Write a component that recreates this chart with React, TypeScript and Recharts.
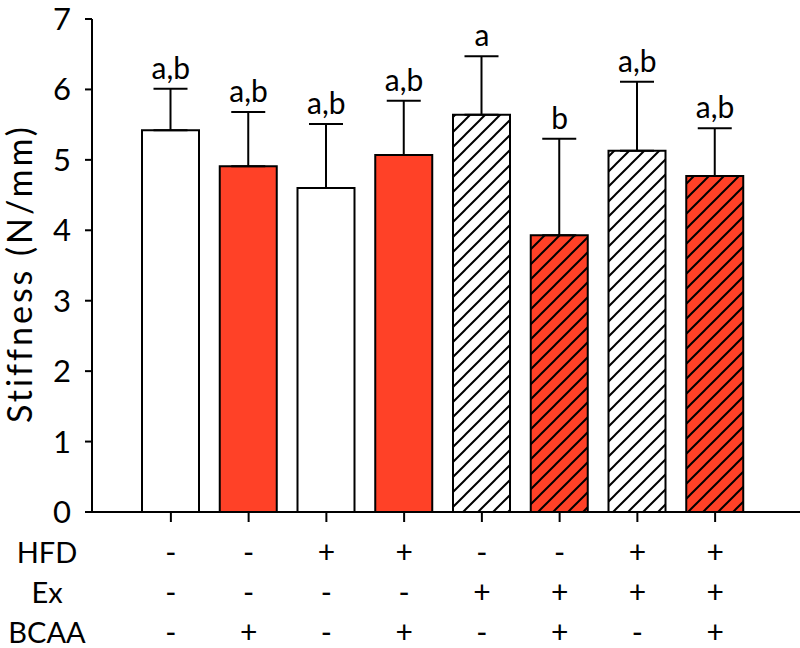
import {
  ComposedChart,
  Bar,
  Cell,
  ErrorBar,
  Line,
  LabelList,
  XAxis,
  YAxis,
} from "recharts";

const groups = ["g1", "g2", "g3", "g4", "g5", "g6", "g7", "g8"];
const stiffness = [5.42, 4.91, 4.6, 5.07, 5.64, 3.93, 5.13, 4.77];
const sdUpper = [0.59, 0.77, 0.91, 0.77, 0.83, 1.37, 0.98, 0.68];
const letters = ["a,b", "a,b", "a,b", "a,b", "a", "b", "a,b", "a,b"];
const hfd = ["-", "-", "+", "+", "-", "-", "+", "+"];
const ex = ["-", "-", "-", "-", "+", "+", "+", "+"];
const bcaa = ["-", "+", "-", "+", "-", "+", "-", "+"];
const barFills = [
  "#ffffff",
  "#ff4127",
  "#ffffff",
  "#ff4127",
  "url(#hatchWhite)",
  "url(#hatchRed)",
  "url(#hatchWhite)",
  "url(#hatchRed)",
];
const rowNames = ["HFD", "Ex", "BCAA"];
const yTicks = [0, 1, 2, 3, 4, 5, 6, 7];

const data = groups.map((g, i) => ({
  group: g,
  value: stiffness[i],
  err: [0, sdUpper[i]],
  top: stiffness[i] + sdUpper[i],
  sig: letters[i],
}));

const FONT = "Lato, 'Open Sans', sans-serif";

function TableTick(props: any) {
  const { x, y, index } = props;
  const rows = [hfd, ex, bcaa];
  return (
    <g>
      {rows.map((r, k) => (
        <text
          key={k}
          x={x}
          y={y + 29 + k * 40}
          textAnchor="middle"
          dominantBaseline="central"
          fontSize={30}
          fontFamily={FONT}
          fill="#000"
        >
          {r[index]}
        </text>
      ))}
      {index === 0 &&
        rowNames.map((n, k) => (
          <text
            key={n}
            x={47}
            y={y + 29 + k * 40}
            textAnchor="middle"
            dominantBaseline="central"
            fontSize={29}
            fontFamily={FONT}
            fill="#000"
          >
            {n}
          </text>
        ))}
    </g>
  );
}

export default function App() {
  return (
    <div style={{ position: "absolute", left: 0, top: 0, width: 800, height: 648, background: "#fff" }}>
      <ComposedChart
        width={800}
        height={648}
        data={data}
        margin={{ top: 19, right: 0, left: 0, bottom: 0 }}
      >
        <defs>
          <pattern id="hatchWhite" patternUnits="userSpaceOnUse" width={15} height={15}>
            <rect width={15} height={15} fill="#ffffff" />
            <path d="M-2,2 L2,-2 M0,15 L15,0 M13,17 L17,13" stroke="#000" strokeWidth={2} />
          </pattern>
          <pattern id="hatchRed" patternUnits="userSpaceOnUse" width={15} height={15}>
            <rect width={15} height={15} fill="#ff4127" />
            <path d="M-2,2 L2,-2 M0,15 L15,0 M13,17 L17,13" stroke="#000" strokeWidth={2} />
          </pattern>
        </defs>
        <XAxis
          dataKey="group"
          height={136}
          padding={{ left: 40, right: 46 }}
          axisLine={{ stroke: "#000", strokeWidth: 2 }}
          tickLine={{ stroke: "#000", strokeWidth: 2 }}
          tickSize={10}
          tickMargin={0}
          interval={0}
          tick={<TableTick />}
        />
        <YAxis
          domain={[0, 7]}
          ticks={yTicks}
          width={92}
          axisLine={{ stroke: "#000", strokeWidth: 2 }}
          tickLine={{ stroke: "#000", strokeWidth: 2 }}
          tickSize={7}
          tickMargin={14}
          tick={{ fontSize: 31, fill: "#000", fontFamily: FONT }}
          label={{
            value: "Stiffness (N/mm)",
            angle: -90,
            position: "insideLeft",
            dx: 15,
            dy: 8,
            style: { textAnchor: "middle", fontSize: 34, letterSpacing: 3, fill: "#000", fontFamily: FONT },
          }}
        />
        <Bar dataKey="value" barSize={57} stroke="#000" strokeWidth={2} isAnimationActive={false}>
          {data.map((d, i) => (
            <Cell key={d.group} fill={barFills[i]} />
          ))}
          <ErrorBar dataKey="err" width={17} stroke="#000" strokeWidth={2} direction="y" />
        </Bar>
        <Line
          dataKey="top"
          stroke="none"
          dot={false}
          activeDot={false}
          legendType="none"
          isAnimationActive={false}
        >
          <LabelList
            dataKey="sig"
            position="top"
            offset={10}
            style={{ fontSize: 30, fill: "#000", fontFamily: FONT }}
          />
        </Line>
      </ComposedChart>
    </div>
  );
}
